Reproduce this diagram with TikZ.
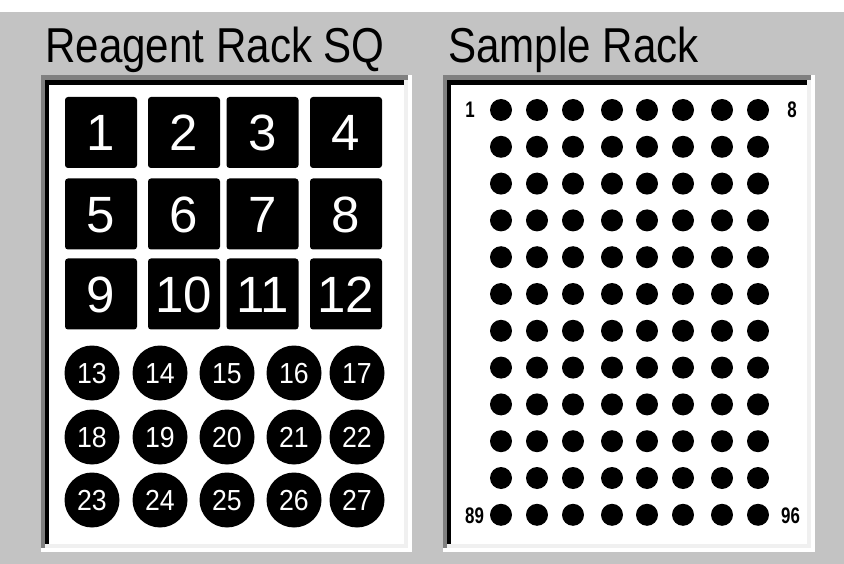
\documentclass[tikz,border=0pt]{standalone}
\usepackage{fontspec}
\usepackage{graphicx}
\setmainfont{Liberation Sans}
\definecolor{panelbg}{RGB}{195,195,195}
\definecolor{edgedark}{RGB}{128,128,128}
\definecolor{edgelight}{RGB}{240,240,240}
\begin{document}
\begin{tikzpicture}[x=1pt,y=-1pt,
  title/.style={anchor=base west,inner sep=0pt,font=\fontsize{49}{49}\selectfont},
  sqbox/.style={fill=black,text=white,rounded corners=3pt,minimum width=72pt,minimum height=71pt,inner sep=0pt,text height=36.5pt,text depth=0pt,font=\fontsize{51}{51}\selectfont},
  rcirc/.style={circle,fill=black,text=white,minimum size=55pt,inner sep=0pt,text height=20.8pt,text depth=0pt,font=\fontsize{29}{29}\selectfont},
  sdot/.style={circle,fill=black,minimum size=22pt,inner sep=0pt},
  slabel/.style={inner sep=0pt,text height=16pt,text depth=0pt,font=\bfseries\fontsize{22.5}{22.5}\selectfont}]
\useasboundingbox (0,0) rectangle (844,564);
\fill[panelbg] (0,0) rectangle (844,564);
\fill[white] (0,0) rectangle (844,12);
% sunken panels
\foreach \xa/\xb in {41/412,443/815}{
  \fill[white] (\xa,75) rectangle (\xb,552);
  \fill[edgedark] (\xa,75) rectangle (\xb-4,548);
  \fill[edgelight] (\xa+4,80) rectangle (\xb-4,548);
  \fill[black] (\xa+4,80) rectangle (\xb-8,544);
  \fill[white] (\xa+8,85) rectangle (\xb-8,544);
}
% titles
\node[title] (t1) at (45,63) {\scalebox{0.86}[1]{Reagent Rack SQ}};
\node[title] (t2) at (448,63) {\scalebox{0.86}[1]{Sample Rack}};
% reagent squares
\foreach \n/\x/\y in {1/101/132.5,2/184/132.5,3/262.5/132.5,4/346/132.5,
                      5/101/214,6/184/214,7/262.5/214,8/346/214,
                      9/101/294,10/184/294,11/262.5/294,12/346/294}{
  \node[sqbox] (s\n) at (\x,\y) {\n};
}
% reagent circles
\foreach \n/\x/\y in {13/92/373,14/160/373,15/227/373,16/294/373,17/357/373,
                      18/92/437,19/160/437,20/227/437,21/294/437,22/357/437,
                      23/92/500,24/160/500,25/227/500,26/294/500,27/357/500}{
  \node[rcirc] (c\n) at (\x,\y) {\scalebox{0.92}[1]{\n}};
}
% sample dots
\foreach \r in {0,...,11}{
  \foreach \c/\x in {1/501,2/537,3/573,4/612,5/647,6/683,7/722,8/758}{
    \pgfmathtruncatemacro{\k}{\r*8+\c}
    \node[sdot] (d\k) at (\x,{110+36.8*\r}) {};
  }
}
\node[slabel] (l1) at (470,110) {\scalebox{0.75}[1]{1}};
\node[slabel] (l8) at (792,110) {\scalebox{0.75}[1]{8}};
\node[slabel] (l89) at (474.5,515) {\scalebox{0.75}[1]{89}};
\node[slabel] (l96) at (790.5,515) {\scalebox{0.75}[1]{96}};
\end{tikzpicture}
\end{document}
